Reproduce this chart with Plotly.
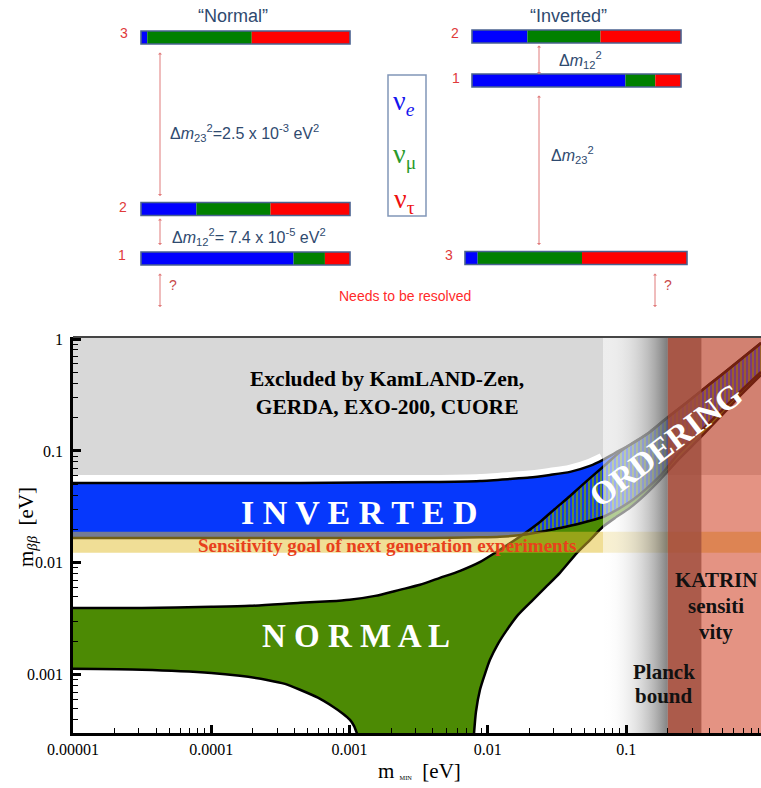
import plotly.graph_objects as go

# ---------------- mass-ordering diagram (top) ----------------
# flavour content (nu_e, nu_mu, nu_tau) of each drawn mass eigenstate
state_tags = ["3", "2", "1", "2", "1", "3"]          # normal: 3,2,1  | inverted: 2,1,3
frac_e   = [0.030, 0.265, 0.730, 0.265, 0.734, 0.057]
frac_mu  = [0.500, 0.355, 0.150, 0.350, 0.143, 0.470]
frac_tau = [0.470, 0.380, 0.120, 0.385, 0.123, 0.473]

# ---------------- effective Majorana mass vs lightest mass (eV) ----------------
no_upper_m   = [1e-5, 3.15e-5, 1e-4, 1.905e-4, 4.4e-4, 7.2e-4, 1.0e-3, 1.53e-3, 2.3e-3, 3.23e-3,
                4.5e-3, 6.3e-3, 8.8e-3, 1.22e-2, 1.7e-2, 2.38e-2, 3.05e-2, 3.93e-2, 5.2e-2, 6.79e-2, 9.0e-2]
no_upper_mbb = [0.00396, 0.00396, 0.00405, 0.00413, 0.00440, 0.00453, 0.00468, 0.00507, 0.00574, 0.00637,
                0.00735, 0.00849, 0.0102, 0.0131, 0.0171, 0.0232, 0.0303, 0.0396, 0.0540, 0.0719, 0.098]

no_lower_left_m   = [1e-5, 3.15e-5, 1e-4, 1.61e-4, 2.53e-4, 3.41e-4, 4.38e-4, 5.9e-4, 7.59e-4,
                     8.95e-4, 1.007e-3, 1.076e-3, 1.13e-3]
no_lower_left_mbb = [1.13e-3, 1.11e-3, 1.04e-3, 9.8e-4, 9.0e-4, 8.3e-4, 7.35e-4, 6.24e-4, 5.18e-4,
                     4.49e-4, 3.96e-4, 3.5e-4, 3.0e-4]

no_lower_right_m   = [7.94e-3, 8.2e-3, 8.77e-3, 9.53e-3, 1.035e-2, 1.183e-2, 1.374e-2, 1.652e-2, 2.12e-2,
                      2.63e-2, 3.32e-2, 4.41e-2, 5.47e-2, 6.79e-2, 8.3e-2, 0.1064, 0.1368, 0.1754,
                      0.245, 0.342, 0.478, 0.665, 0.944]
no_lower_right_mbb = [3.0e-4, 4.68e-4, 7.35e-4, 1.02e-3, 1.36e-3, 1.89e-3, 2.52e-3, 3.43e-3, 4.68e-3,
                      6.1e-3, 8.15e-3, 1.23e-2, 1.60e-2, 2.10e-2, 2.52e-2, 3.10e-2, 4.05e-2, 5.51e-2,
                      8.66e-2, 0.1306, 0.201, 0.310, 0.477]

io_upper_m   = [1e-5, 4.4e-4, 3.8e-3, 8.8e-3, 1.45e-2, 2.0e-2, 2.81e-2, 3.93e-2, 5.47e-2, 6.79e-2,
                8.3e-2, 0.1064, 0.1486, 0.197, 0.266, 0.342, 0.478, 0.665, 0.944]
io_upper_mbb = [0.0518, 0.0518, 0.0528, 0.0540, 0.0562, 0.0579, 0.0611, 0.0650, 0.0735, 0.0832,
                0.0959, 0.1132, 0.148, 0.197, 0.263, 0.337, 0.468, 0.650, 0.92]

io_lower_m   = [1e-5, 3.8e-3, 8.8e-3, 1.22e-2, 1.8e-2, 2.59e-2, 3.32e-2, 4.63e-2, 6.79e-2, 8.3e-2,
                0.1064, 0.1368, 0.1754, 0.245, 0.342, 0.478, 0.665, 0.944]
io_lower_mbb = [0.0167, 0.0167, 0.0169, 0.0171, 0.0178, 0.0193, 0.0205, 0.0225, 0.0257, 0.0291,
                0.0351, 0.0449, 0.0598, 0.098, 0.148, 0.223, 0.337, 0.507]

exclusion_limit = 0.061                 # KamLAND-Zen / GERDA / EXO-200 / CUORE
sensitivity_band = [0.0123, 0.019]      # next-generation goal
planck_fade_from, planck_bound, planck_to = 0.068, 0.2, 0.35
katrin_from = 0.2

x_ticks = [1e-5, 1e-4, 1e-3, 1e-2, 1e-1]
x_tick_text = ["0.00001", "0.0001", "0.001", "0.01", "0.1"]
y_ticks = [1e-3, 1e-2, 1e-1, 1]
y_tick_text = ["0.001", "0.01", "0.1", "1"]

# ---------------- page geometry ----------------
W, H = 761, 788
PLOT_L, PLOT_T, PLOT_B = 73, 337, 733
X_END, Y_LO, Y_HI = -0.025, -3.52, 0.018

SERIF = "Liberation Serif"
SANS = "Liberation Sans"
SLATE = "#2f4a6f"
LEVEL_RED = "#e03a3a"

fig = go.Figure()

def rect(x0, x1, y0, y1, color, gradient=None):
    tr = go.Scatter(x=[x0, x1, x1, x0, x0], y=[y0, y0, y1, y1, y0], mode="lines",
                    line=dict(width=0), fill="toself", fillcolor=color,
                    hoverinfo="skip", showlegend=False, xaxis="x", yaxis="y")
    if gradient is not None:
        tr.fillgradient = gradient
    fig.add_trace(tr)

def poly(xs, ys, color, **kw):
    fig.add_trace(go.Scatter(x=xs, y=ys, mode="lines", line=dict(width=0), fill="toself",
                             fillcolor=color, hoverinfo="skip", showlegend=False, **kw))

def curve(xs, ys, color="black", width=2.5):
    fig.add_trace(go.Scatter(x=xs, y=ys, mode="lines",
                             line=dict(color=color, width=width, shape="spline", smoothing=0.6),
                             hoverinfo="skip", showlegend=False))

# excluded region
rect(1e-6, 10, exclusion_limit, 10, "#d8d8d8")

# white halo above the inverted band (left of the Planck fade)
halo = [(m, v) for m, v in zip(io_upper_m, io_upper_mbb) if m <= planck_fade_from * 1.05]
curve([p[0] for p in halo], [p[1] for p in halo], color="white", width=14)

# inverted ordering band
poly(io_upper_m + io_lower_m[::-1], io_upper_mbb + io_lower_mbb[::-1], "rgb(6,56,252)")

# normal ordering band (top follows the inverted upper edge once they merge)
merge_m = no_upper_m[-1]
no_top_m = no_upper_m + [m for m in io_upper_m if m > merge_m]
no_top_mbb = no_upper_mbb + [v for m, v in zip(io_upper_m, io_upper_mbb) if m > merge_m]
poly(no_top_m + no_lower_right_m[::-1] + no_lower_left_m[::-1],
     no_top_mbb + no_lower_right_mbb[::-1] + no_lower_left_mbb[::-1],
     "rgb(76,138,4)")

# overlap of both orderings (hatched)
cross_m = 1.7e-2
ov_top = [(m, v) for m, v in zip(no_top_m, no_top_mbb) if m >= cross_m]
ov_bot = [(m, v) for m, v in zip(io_lower_m, io_lower_mbb) if m >= cross_m][::-1]
fig.add_trace(go.Scatter(
    x=[p[0] for p in ov_top + ov_bot], y=[p[1] for p in ov_top + ov_bot],
    mode="lines", line=dict(width=0), fill="toself", fillcolor="rgb(76,138,4)",
    fillpattern=dict(shape="|", fgcolor="rgb(20,60,235)", bgcolor="rgb(95,140,60)",
                     size=4, solidity=0.5, fillmode="replace"),
    hoverinfo="skip", showlegend=False))

# band outlines
curve(io_upper_m, io_upper_mbb)
curve(io_lower_m, io_lower_mbb)
curve(no_top_m, no_top_mbb)
curve(no_lower_right_m, no_lower_right_mbb)
curve(no_lower_left_m, no_lower_left_mbb)

# next-generation sensitivity
rect(1e-6, 10, sensitivity_band[0], sensitivity_band[1], "rgba(225,189,45,0.5)")

# Planck bound: fade-in then solid
stops = []
for i in range(11):
    t = i / 10
    c = int(round(255 - 155 * t ** 2))
    a = 0.55 + 0.25 * t
    stops.append([t, f"rgba({c},{c},{c},{a:.3f})"])
rect(planck_fade_from, planck_bound, 1e-5, 10, "rgba(255,255,255,0.6)",
     gradient=dict(type="horizontal", colorscale=stops))
rect(planck_bound, planck_to, 1e-5, 10, "rgba(100,100,100,0.8)")

# KATRIN sensitivity
rect(katrin_from, 10, 1e-5, 10, "rgba(206,58,30,0.55)")

# ---------------- diagram bars ----------------
lvl_x0 = [141, 141, 141, 472, 472, 465]
lvl_len = [209, 209, 209, 209, 209, 222]
lvl_y = [37.5, 209, 258.5, 36.5, 80.5, 258]
BAR_H = 13
cum = [0.0] * len(lvl_x0)
for fr, col in ((frac_e, "#0000ff"), (frac_mu, "#008000"), (frac_tau, "#ff0000")):
    fig.add_trace(go.Bar(
        orientation="h", y=lvl_y, x=[f * L for f, L in zip(fr, lvl_len)],
        base=[x0 + c * L for x0, c, L in zip(lvl_x0, cum, lvl_len)],
        width=BAR_H, marker=dict(color=col, line=dict(width=0)),
        xaxis="x2", yaxis="y2", hoverinfo="skip", showlegend=False))
    cum = [c + f for c, f in zip(cum, fr)]
fig.add_trace(go.Bar(orientation="h", y=lvl_y, x=lvl_len, base=lvl_x0, width=BAR_H,
                     marker=dict(color="rgba(0,0,0,0)", line=dict(color="#4a6290", width=1.6)),
                     xaxis="x2", yaxis="y2", hoverinfo="skip", showlegend=False))

ann = []

def text(x, y, s, size, color, family=SANS, **kw):
    d = dict(x=x, y=y, xref="x2", yref="y2", text=s, showarrow=False,
             font=dict(size=size, color=color, family=family))
    d.update(kw)
    ann.append(d)

def arrow(x, y0, y1, color="#e07b7b"):
    ann.append(dict(x=x, y=y1, ax=x, ay=y0, xref="x2", yref="y2", axref="x2", ayref="y2",
                    text="", showarrow=True, arrowside="end+start", arrowhead=1,
                    arrowsize=0.7, arrowwidth=1, arrowcolor=color, standoff=0, startstandoff=0))

text(233, 16, "\u201cNormal\u201d", 18, SLATE)
text(568, 16, "\u201cInverted\u201d", 18, SLATE)
for tag, (tx, ty) in zip(state_tags, [(124, 33), (123, 207), (122, 255), (455, 33), (456, 78), (449, 255)]):
    text(tx, ty, tag, 14, LEVEL_RED)
arrow(160, 51, 196)
arrow(160, 217, 245)
arrow(160, 272, 307)
arrow(539, 44, 74)
arrow(539, 94, 245)
arrow(655, 272, 307)
text(168, 133, "\u0394<i>m</i><sub>23</sub><sup>2</sup>=2.5 x 10<sup>-3</sup> eV<sup>2</sup>", 16, SLATE, xanchor="left")
text(170, 237, "\u0394<i>m</i><sub>12</sub><sup>2</sup>= 7.4 x 10<sup>-5</sup> eV<sup>2</sup>", 16, SLATE, xanchor="left")
text(557, 60, "\u0394<i>m</i><sub>12</sub><sup>2</sup>", 16, SLATE, xanchor="left")
text(549, 155, "\u0394<i>m</i><sub>23</sub><sup>2</sup>", 16, SLATE, xanchor="left")
text(173, 285, "?", 14, "#c94a4a")
text(668, 285, "?", 14, "#c94a4a")
text(405, 296, "Needs to be resolved", 14, "#ff2a2a")
text(404, 102, "\u03bd<sub><i>e</i></sub>", 28, "#1515ee", SERIF)
text(404, 155, "\u03bd<sub>\u03bc</sub>", 28, "#2a9a2a", SERIF)
text(404, 200, "\u03bd<sub>\u03c4</sub>", 28, "#ee1111", SERIF)

# ---------------- plot labels ----------------
text(387, 393, "<b>Excluded by KamLAND-Zen,<br>GERDA, EXO-200, CUORE</b>", 21.5, "black", SERIF)
text(359, 512, "<b>I N V E R T E D</b>", 34, "white", SERIF)
text(387, 545, "<b>Sensitivity goal of next generation experiments</b>", 19, "#e8401c", SERIF)
text(356, 636, "<b>N O R M A L</b>", 33, "white", SERIF)
text(666, 445, "<b>ORDERING</b>", 33, "white", SERIF, textangle=-37)
text(716, 580, "<b>KATRIN</b>", 21, "#111111", SERIF)
text(716, 606, "<b>sensiti</b>", 21, "#111111", SERIF)
text(716, 632, "<b>vity</b>", 21, "#111111", SERIF)
text(664, 672, "<b>Planck</b>", 21, "#111111", SERIF)
text(664, 696, "<b>bound</b>", 21, "#111111", SERIF)
text(27, 527, "m<sub><i>\u03b2\u03b2</i></sub>&nbsp;&nbsp;[eV]", 21, "black", SERIF, textangle=-90)
text(419, 771, "m&nbsp;<span style='font-size:9px'><sub>MIN</sub></span>&nbsp;&nbsp;[eV]", 21, "black", SERIF)

shapes = [
    dict(type="rect", xref="x2", yref="y2", x0=388, x1=426, y0=75, y1=216,
         line=dict(color="#8196b8", width=1.5), fillcolor="rgba(0,0,0,0)"),
    # top frame of the plot
    dict(type="line", xref="x domain", yref="y domain", x0=0, x1=1, y0=1, y1=1,
         line=dict(color="#454545", width=2)),
]

axis_common = dict(type="log", showgrid=False, zeroline=False, ticks="inside",
                   ticklen=8, tickwidth=2.5, tickcolor="black", linecolor="black", linewidth=2.5,
                   showline=True, tickfont=dict(family=SERIF, size=16, color="black"),
                   minor=dict(ticks="inside", ticklen=5, tickwidth=1, tickcolor="black",
                              dtick="D1", showgrid=False),
                   automargin=False)

fig.update_layout(
    width=W, height=H, margin=dict(l=0, r=0, t=0, b=0),
    template="none", paper_bgcolor="white", plot_bgcolor="rgba(0,0,0,0)",
    showlegend=False, barmode="overlay",
    xaxis=dict(domain=[PLOT_L / W, 1], range=[-5, X_END], anchor="y",
               tickvals=x_ticks, ticktext=x_tick_text, **axis_common),
    yaxis=dict(domain=[(H - PLOT_B) / H, (H - PLOT_T) / H], range=[Y_LO, Y_HI], anchor="x",
               tickvals=y_ticks, ticktext=y_tick_text, ticklabelstandoff=4, **axis_common),
    xaxis2=dict(domain=[0, 1], range=[0, W], anchor="y2", visible=False, fixedrange=True),
    yaxis2=dict(domain=[0, 1], range=[H, 0], anchor="x2", visible=False, fixedrange=True),
    annotations=ann, shapes=shapes,
)

fig.write_html("out.html")
